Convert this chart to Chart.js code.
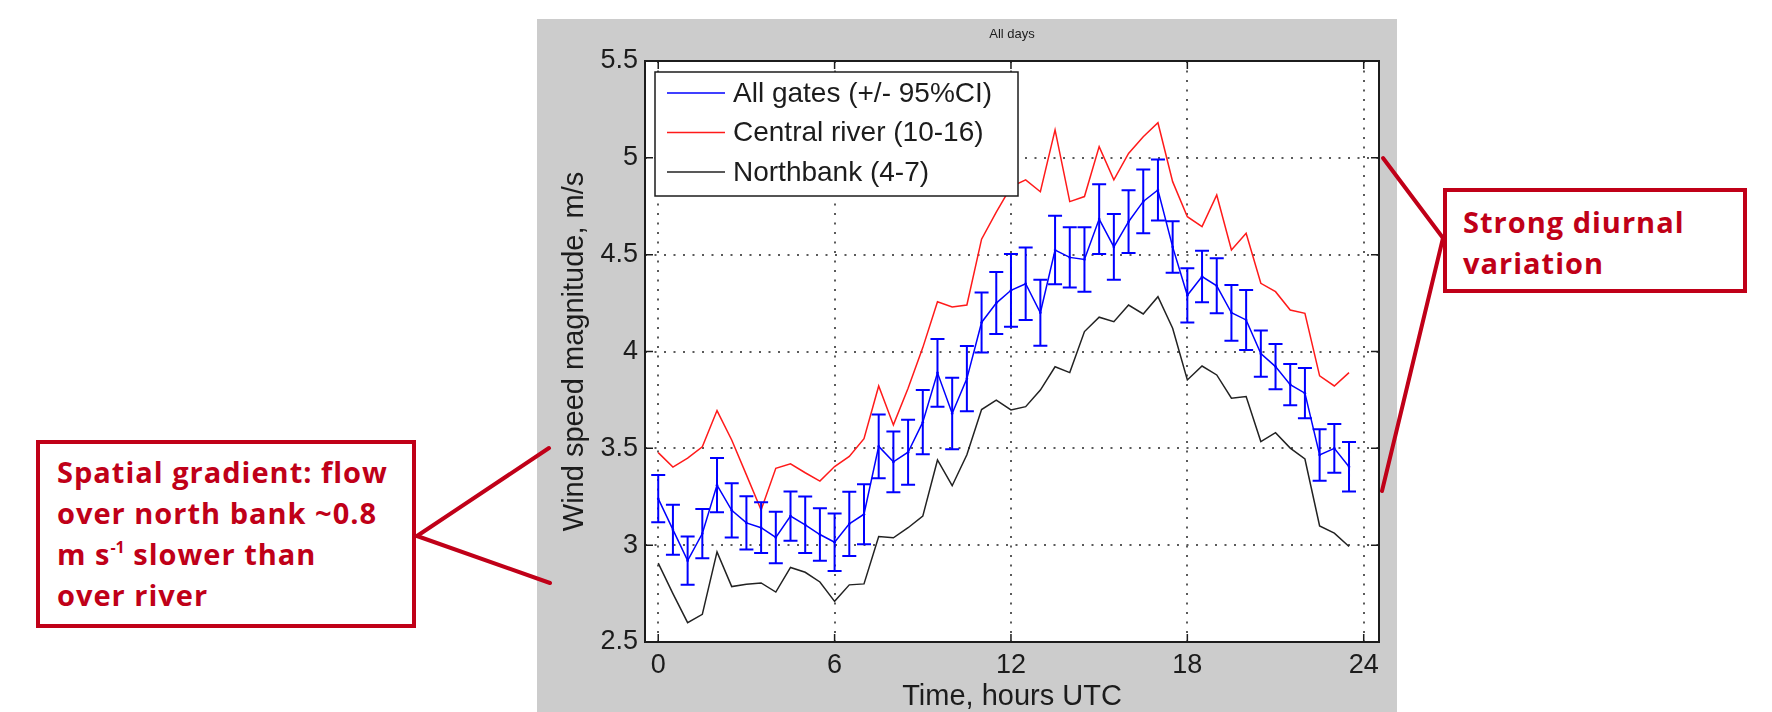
<!DOCTYPE html>
<html>
<head>
<meta charset="utf-8">
<title>Wind speed magnitude - all days</title>
<script src="https://cdn.jsdelivr.net/npm/chart.js@4.4.0/dist/chart.umd.min.js"></script>
<style>
  html, body { margin: 0; padding: 0; background: #ffffff; overflow: hidden; }
  #wrap { position: relative; width: 1772px; height: 712px; }
  #chart { position: absolute; left: 0; top: 0; }
  #links { position: absolute; left: 0; top: 0; pointer-events: none; }
  .note {
    position: absolute;
    box-sizing: border-box;
    background: #ffffff;
    border: 4px solid #c00018;
    color: #c00018;
    font-family: "Open Sans", "Noto Sans", sans-serif;
    font-weight: 700;
    font-size: 29px;
    letter-spacing: 1px;
    line-height: 41px;
    white-space: nowrap;
  }
  .note sup { font-size: 16px; line-height: 0; vertical-align: baseline; position: relative; top: -0.75em; letter-spacing: 0; }
</style>
</head>
<body>
<div id="wrap">
  <canvas id="chart" width="1772" height="712"></canvas>
  <svg id="links" width="1772" height="712">
    <g stroke="#c00018" stroke-width="4" stroke-linecap="round" fill="none">
      <line x1="417" y1="536" x2="549" y2="448"/>
      <line x1="417" y1="536" x2="550" y2="583"/>
      <line x1="1443" y1="238" x2="1383" y2="158"/>
      <line x1="1443" y1="238" x2="1382" y2="491"/>
    </g>
  </svg>
  <div class="note" style="left:36px;top:440px;width:380px;height:188px;padding:7px 0 0 17px;">Spatial gradient: flow<br>over north bank ~0.8<br>m s<sup>-1</sup> slower than<br>over river</div>
  <div class="note" style="left:1443px;top:188px;width:304px;height:105px;padding:9px 0 0 16px;">Strong diurnal<br>variation</div>
</div>
<script>
// half-hourly bins, hours UTC
const hours = [0, 0.5, 1, 1.5, 2, 2.5, 3, 3.5, 4, 4.5, 5, 5.5, 6, 6.5, 7, 7.5,
  8, 8.5, 9, 9.5, 10, 10.5, 11, 11.5, 12, 12.5, 13, 13.5, 14, 14.5, 15, 15.5,
  16, 16.5, 17, 17.5, 18, 18.5, 19, 19.5, 20, 20.5, 21, 21.5, 22, 22.5, 23, 23.5];

// mean over all gates and its 95% confidence half-width
const allGates = [3.24, 3.08, 2.92, 3.06, 3.31, 3.18, 3.115, 3.09, 3.04, 3.15, 3.105, 3.055,
  3.015, 3.11, 3.16, 3.51, 3.43, 3.48, 3.635, 3.89, 3.68, 3.86, 4.15, 4.25,
  4.316, 4.35, 4.2, 4.524, 4.486, 4.475, 4.684, 4.54, 4.67, 4.775, 4.834, 4.54,
  4.29, 4.387, 4.339, 4.2, 4.163, 3.989, 3.922, 3.829, 3.785, 3.466, 3.5, 3.405];
const allGatesCI = [0.122, 0.129, 0.125, 0.127, 0.14, 0.14, 0.138, 0.131, 0.133, 0.127, 0.146, 0.135,
  0.149, 0.166, 0.155, 0.165, 0.157, 0.168, 0.166, 0.175, 0.185, 0.168, 0.155, 0.16,
  0.188, 0.187, 0.17, 0.177, 0.155, 0.166, 0.18, 0.17, 0.162, 0.165, 0.158, 0.133,
  0.14, 0.133, 0.142, 0.144, 0.155, 0.119, 0.117, 0.107, 0.13, 0.133, 0.126, 0.128];

// gates 10-16
const centralRiver = [3.478, 3.403, 3.449, 3.508, 3.695, 3.543, 3.363, 3.182, 3.397, 3.42, 3.374, 3.331,
  3.406, 3.458, 3.55, 3.822, 3.621, 3.81, 4.02, 4.257, 4.23, 4.24, 4.58, 4.72,
  4.85, 4.886, 4.825, 5.144, 4.774, 4.8, 5.058, 4.886, 5.023, 5.109, 5.181, 4.877,
  4.696, 4.645, 4.808, 4.524, 4.61, 4.352, 4.309, 4.214, 4.197, 3.874, 3.822, 3.891];

// gates 4-7
const northbank = [2.907, 2.75, 2.6, 2.643, 2.965, 2.786, 2.798, 2.805, 2.758, 2.885, 2.86, 2.81,
  2.71, 2.795, 2.8, 3.045, 3.038, 3.09, 3.15, 3.44, 3.307, 3.467, 3.7, 3.749,
  3.698, 3.715, 3.801, 3.921, 3.891, 4.103, 4.177, 4.154, 4.24, 4.194, 4.283, 4.12,
  3.853, 3.925, 3.879, 3.759, 3.767, 3.535, 3.581, 3.501, 3.445, 3.099, 3.062, 2.993];

const seriesLabels = ['All gates (+/- 95%CI)', 'Central river (10-16)', 'Northbank (4-7)'];
const xTicks = [0, 6, 12, 18, 24];
const yTicks = [2.5, 3, 3.5, 4, 4.5, 5, 5.5];

const axisFont = 'Liberation Sans, Arial, sans-serif';
const ink = '#1c1c1c';

const toPoints = vals => hours.map((h, i) => ({ x: h, y: vals[i] }));

// grey figure, white axes, error bars, boxed axes with inward ticks, legend
const figurePlugin = {
  id: 'figure',
  beforeDraw(chart) {
    const { ctx, chartArea: a } = chart;
    ctx.save();
    ctx.fillStyle = '#ffffff';
    ctx.fillRect(0, 0, chart.width, chart.height);
    ctx.fillStyle = '#cccccc';
    ctx.fillRect(537, 19, 860, chart.height - 19);
    ctx.fillStyle = '#ffffff';
    ctx.fillRect(a.left, a.top, a.right - a.left, a.bottom - a.top);
    ctx.restore();
  },
  afterDatasetsDraw(chart) {
    const { ctx, scales: { x, y } } = chart;
    ctx.save();
    ctx.strokeStyle = '#0000ff';
    ctx.lineWidth = 2;
    ctx.beginPath();
    hours.forEach((h, i) => {
      const px = x.getPixelForValue(h);
      const hi = y.getPixelForValue(allGates[i] + allGatesCI[i]);
      const lo = y.getPixelForValue(allGates[i] - allGatesCI[i]);
      ctx.moveTo(px, hi); ctx.lineTo(px, lo);
      ctx.moveTo(px - 7, hi); ctx.lineTo(px + 7, hi);
      ctx.moveTo(px - 7, lo); ctx.lineTo(px + 7, lo);
    });
    ctx.stroke();
    ctx.restore();
  },
  afterDraw(chart) {
    const { ctx, chartArea: a, scales: { x, y } } = chart;
    ctx.save();
    ctx.strokeStyle = ink;
    ctx.lineWidth = 2;
    ctx.strokeRect(a.left, a.top, a.right - a.left, a.bottom - a.top);

    ctx.lineWidth = 1.5;
    ctx.beginPath();
    xTicks.forEach(v => {
      const px = x.getPixelForValue(v);
      ctx.moveTo(px, a.bottom); ctx.lineTo(px, a.bottom - 8);
      ctx.moveTo(px, a.top); ctx.lineTo(px, a.top + 8);
    });
    yTicks.forEach(v => {
      const py = y.getPixelForValue(v);
      ctx.moveTo(a.left, py); ctx.lineTo(a.left + 8, py);
      ctx.moveTo(a.right, py); ctx.lineTo(a.right - 8, py);
    });
    ctx.stroke();

    // axes title
    ctx.fillStyle = ink;
    ctx.font = '13px ' + axisFont;
    ctx.textAlign = 'center';
    ctx.textBaseline = 'middle';
    ctx.fillText('All days', (a.left + a.right) / 2, 34);

    // legend
    const bx = a.left + 10, by = a.top + 11, bw = 363, bh = 124;
    ctx.fillStyle = '#ffffff';
    ctx.fillRect(bx, by, bw, bh);
    ctx.lineWidth = 1.5;
    ctx.strokeStyle = ink;
    ctx.strokeRect(bx, by, bw, bh);
    ctx.font = '28px ' + axisFont;
    ctx.textAlign = 'left';
    chart.data.datasets.forEach((ds, i) => {
      const ry = by + 21 + i * 39.5;
      ctx.strokeStyle = ds.borderColor;
      ctx.lineWidth = 1.5;
      ctx.beginPath();
      ctx.moveTo(bx + 12, ry); ctx.lineTo(bx + 70, ry);
      ctx.stroke();
      ctx.fillStyle = ink;
      ctx.fillText(ds.label, bx + 78, ry + 1);
    });
    ctx.restore();
  }
};

new Chart(document.getElementById('chart'), {
  type: 'line',
  data: {
    datasets: [
      { label: seriesLabels[0], data: toPoints(allGates), borderColor: '#0000ff', backgroundColor: '#0000ff',
        borderWidth: 1.5, pointRadius: 1.3, pointBorderWidth: 0, tension: 0 },
      { label: seriesLabels[1], data: toPoints(centralRiver), borderColor: '#ff1a1a',
        borderWidth: 1.5, pointRadius: 0, tension: 0 },
      { label: seriesLabels[2], data: toPoints(northbank), borderColor: '#222222',
        borderWidth: 1.5, pointRadius: 0, tension: 0 }
    ]
  },
  options: {
    responsive: false,
    animation: false,
    devicePixelRatio: 1,
    layout: { padding: { left: 537, right: 393, top: 61, bottom: 0 } },
    plugins: { legend: { display: false }, tooltip: { enabled: false } },
    scales: {
      x: {
        type: 'linear',
        min: -0.45,
        max: 24.52,
        afterBuildTicks: s => { s.ticks = xTicks.map(v => ({ value: v })); },
        afterFit: s => { s.height = 70; },
        grid: { color: '#5a5a5a', lineWidth: 2, drawTicks: false },
        border: { display: false, dash: [2, 7.5] },
        ticks: { color: ink, font: { family: axisFont, size: 27 }, padding: 7,
                 maxRotation: 0, autoSkip: false, callback: v => String(v) },
        title: { display: true, text: 'Time, hours UTC', color: ink,
                 font: { family: axisFont, size: 29, lineHeight: 1 }, padding: { top: 0, bottom: 1 } }
      },
      y: {
        type: 'linear',
        min: 2.5,
        max: 5.5,
        afterBuildTicks: s => { s.ticks = yTicks.map(v => ({ value: v })); },
        afterFit: s => { s.width = 108; },
        grid: { color: '#5a5a5a', lineWidth: 2, drawTicks: false },
        border: { display: false, dash: [2, 7.5] },
        ticks: { color: ink, font: { family: axisFont, size: 27 }, padding: 7,
                 autoSkip: false, callback: v => String(v) },
        title: { display: true, text: 'Wind speed magnitude, m/s', color: ink,
                 font: { family: axisFont, size: 29, lineHeight: 1 }, padding: { top: 23, bottom: 0 } }
      }
    }
  },
  plugins: [figurePlugin]
});
</script>
</body>
</html>
